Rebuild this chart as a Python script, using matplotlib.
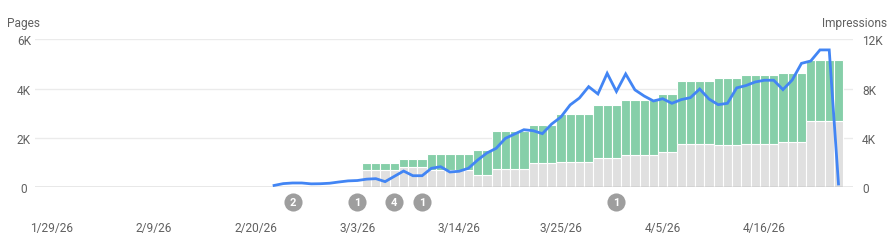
import numpy as np
import pandas as pd
import matplotlib
matplotlib.use("Agg")
import matplotlib.pyplot as plt
import matplotlib.dates as mdates

plt.rcParams['font.family'] = ['Roboto', 'DejaVu Sans']

# bars: one per day from 3/4/26 to 4/24/26
bar_start = "2026-03-04"
not_indexed = [710, 710, 710, 710,
               810, 810, 810,
               705, 705, 705, 705, 705,
               495, 495,
               740, 740, 740, 740,
               985, 985, 985,
               1010, 1010, 1010, 1010,
               1180, 1180, 1180,
               1320, 1320, 1320, 1320,
               1420, 1420,
               1740, 1740, 1740, 1740,
               1700, 1700, 1700,
               1740, 1740, 1740, 1740,
               1820, 1820, 1820,
               2680, 2680, 2680, 2680]
indexed = [275, 275, 275, 275,
           340, 340, 340,
           645, 645, 645, 645, 645,
           1015, 1015,
           1540, 1540, 1540, 1540,
           1535, 1535, 1535,
           1960, 1960, 1960, 1960,
           2160, 2160, 2160,
           2220, 2220, 2220, 2220,
           2350, 2350,
           2570, 2570, 2570, 2570,
           2730, 2730, 2730,
           2800, 2800, 2800, 2800,
           2810, 2810, 2810,
           2480, 2480, 2480, 2480]

# line: impressions per day from 2/22/26 to 4/24/26
line_start = "2026-02-22"
impressions = [150, 300, 350, 350, 280, 290, 330, 430, 520, 550,
               660, 700, 460, 890, 1320, 940, 940, 1540, 1670, 1240,
               1300, 1540, 2210, 2780, 3160, 3970, 4320, 4670, 4590, 4350,
               5130, 5700, 6680, 7240, 8160, 7570, 9240, 7770, 9190, 7900,
               7400, 7000, 7180, 6810, 7110, 7270, 7970, 7160, 6700, 6810,
               8060, 8250, 8540, 8680, 8680, 7920, 8700, 10050, 10240, 11140,
               11140, 270]

tick_dates = ["2026-01-29", "2026-02-09", "2026-02-20", "2026-03-03",
              "2026-03-14", "2026-03-25", "2026-04-05", "2026-04-16"]
tick_labels = ["1/29/26", "2/9/26", "2/20/26", "3/3/26",
               "3/14/26", "3/25/26", "4/5/26", "4/16/26"]

# annotation markers under the axis
note_dates = ["2026-02-24", "2026-03-03", "2026-03-07", "2026-03-10", "2026-03-31"]
note_labels = ["2", "1", "4", "1", "1"]

txt = '#616161'
green = '#86cfa9'
grey = '#e0e0e0'
blue = '#4285f4'

bar_x = mdates.date2num(pd.date_range(bar_start, periods=len(indexed), freq="D"))
line_x = mdates.date2num(pd.date_range(line_start, periods=len(impressions), freq="D"))

fig = plt.figure(figsize=(8.96, 2.51), dpi=100)
ax = fig.add_axes([35/896, 1 - 188.3/251, (853-35)/896, (188.3-40.3)/251])

ax.bar(bar_x, not_indexed, width=1.0, color=grey, edgecolor='white', linewidth=0.8, zorder=2)
ax.bar(bar_x, indexed, width=1.0, bottom=not_indexed, color=green, edgecolor='white', linewidth=0.8, zorder=2)

x0 = mdates.date2num(pd.Timestamp("2026-01-29"))
ax.set_xlim(x0 - 1.84, x0 + 86.57)
ax.set_ylim(0, 6000)
ax.set_yticks([0, 2000, 4000, 6000])
ax.set_yticklabels(['0', '2K', '4K', '6K'])
ax.grid(axis='y', color='#ebebeb', linewidth=1, zorder=0)
ax.axhline(0, color='#9e9e9e', linewidth=1, zorder=3)
ax.set_xticks(mdates.date2num(pd.to_datetime(tick_dates)))
ax.set_xticklabels(tick_labels)
ax.tick_params(axis='x', length=0, pad=24, labelsize=8.6, labelcolor=txt)
ax.tick_params(axis='y', length=0, pad=8, labelsize=8.6, labelcolor=txt)
for lab in ax.get_yticklabels():
    lab.set_horizontalalignment('center')
for s in ax.spines.values():
    s.set_visible(False)

ax2 = ax.twinx()
ax2.plot(line_x, impressions, color=blue, linewidth=2, zorder=5, solid_joinstyle='miter')
ax2.set_ylim(0, 12000)
ax2.set_yticks([0, 4000, 8000, 12000])
ax2.set_yticklabels(['0', '4K', '8K', '12K'])
ax2.tick_params(axis='y', length=0, pad=6.5, labelsize=8.6, labelcolor=txt)
for s in ax2.spines.values():
    s.set_visible(False)

nx = mdates.date2num(pd.to_datetime(note_dates))
ax.scatter(nx, [-610]*len(nx), s=170, color='#9e9e9e', clip_on=False, zorder=6, linewidths=0)
for xx, lab in zip(nx, note_labels):
    ax.text(xx, -610, lab, color='white', fontsize=8, fontweight='bold',
            ha='center', va='center', clip_on=False, zorder=7)

fig.text(7.3/896, 1 - 24/251, "Pages", color=txt, fontsize=8.6, ha='left', va='center')
fig.text(887/896, 1 - 24/251, "Impressions", color=txt, fontsize=8.6, ha='right', va='center')

fig.savefig("out.png", dpi=100)
